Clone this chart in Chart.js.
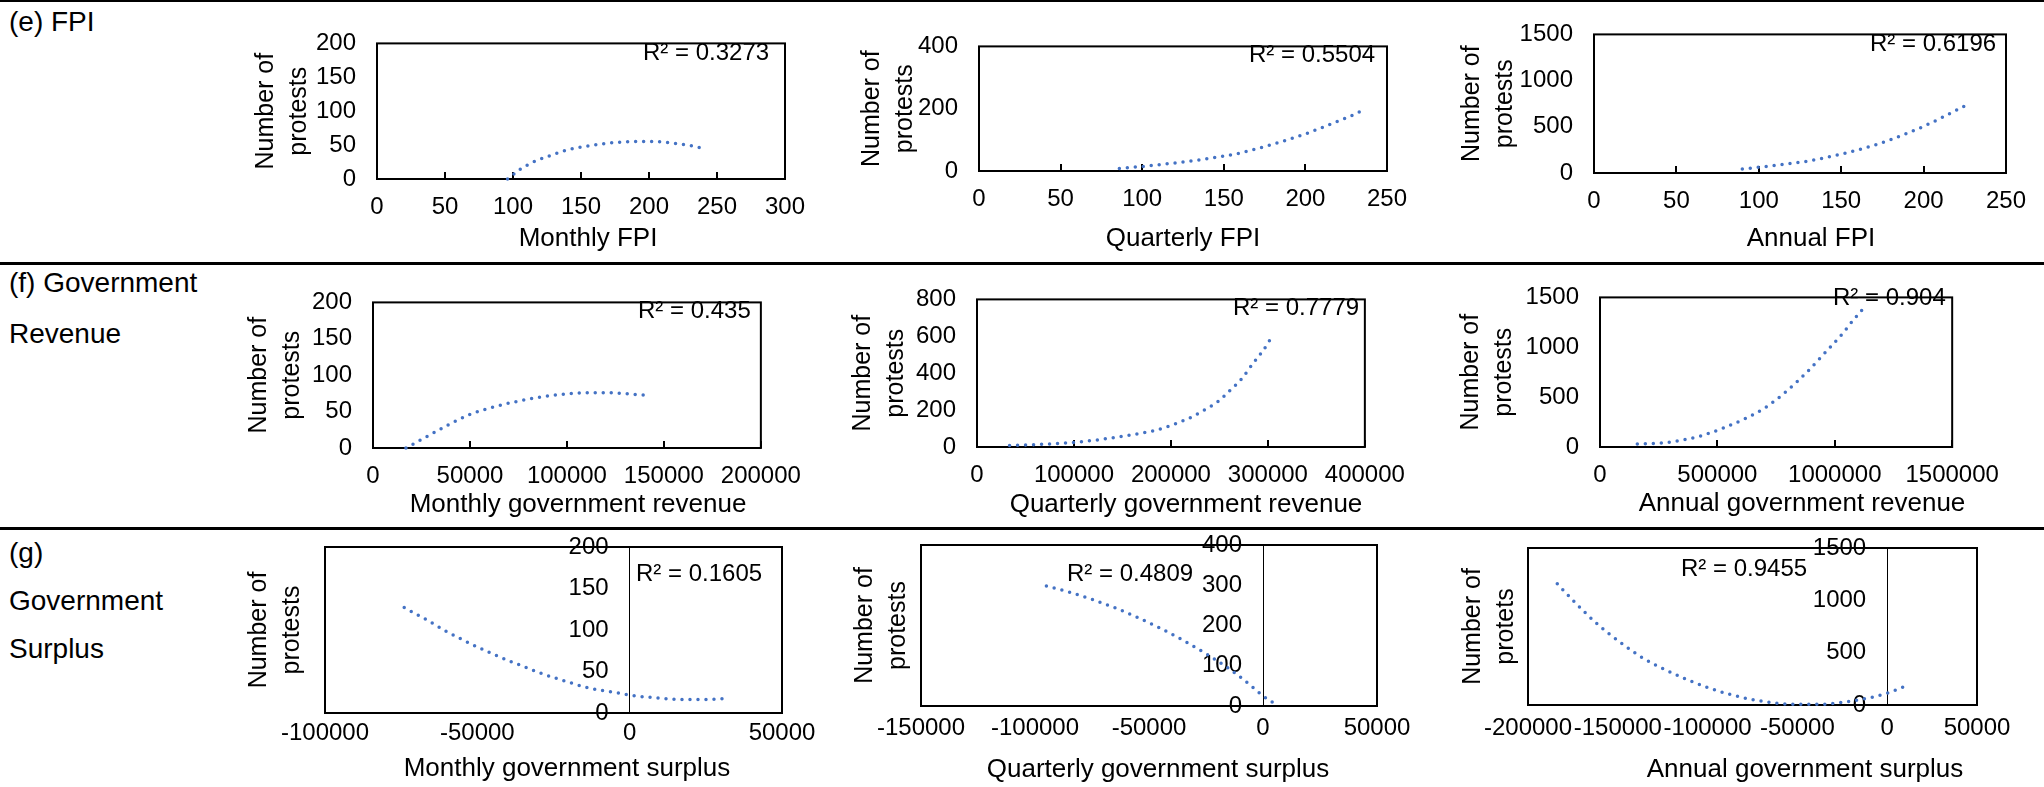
<!DOCTYPE html>
<html><head><meta charset="utf-8">
<script src="https://cdn.jsdelivr.net/npm/chart.js@4.4.1/dist/chart.umd.min.js"></script>
<style>
html,body{margin:0;padding:0;background:#fff;}
body{position:relative;width:2044px;height:787px;overflow:hidden;font-family:"Liberation Sans",Arial,sans-serif;color:#000;}
.hr{position:absolute;left:0;width:2044px;background:#000;}
.lbl{position:absolute;white-space:nowrap;font-size:28px;line-height:28px;}
.r2{position:absolute;white-space:nowrap;font-size:24px;line-height:24px;z-index:2;}
.xt{position:absolute;white-space:nowrap;font-size:26px;line-height:26px;width:600px;text-align:center;}
canvas{position:absolute;}
</style></head><body>
<div class="hr" style="top:0;height:2px"></div>
<div class="hr" style="top:262px;height:3px"></div>
<div class="hr" style="top:527px;height:3px"></div>
<script>
const fpiMonthlyX = [96, 105, 117, 128, 140, 153, 166, 180, 193, 206, 219, 231, 242];
const fpiMonthlyY = [0, 14, 27, 35, 43, 48, 52, 54.5, 55.5, 55, 52.5, 49, 44];
const fpiQuarterlyX = [86, 101, 117, 134, 150, 161, 180, 190, 199, 208, 217, 227, 236];
const fpiQuarterlyY = [8, 15, 24, 35, 48, 59, 86, 102, 117, 135, 154, 175, 197];
const fpiAnnualX = [90, 100, 110, 120, 130, 140, 150, 160, 170, 180, 190, 200, 210, 220, 227];
const fpiAnnualY = [42, 62, 82, 105, 130, 165, 205, 250, 300, 360, 430, 505, 590, 680, 745];
const revMonthlyX = [17000, 28000, 39000, 50000, 61500, 72500, 84000, 95000, 106000, 117500, 128500, 140000];
const revMonthlyY = [0, 16, 32, 46, 56, 63, 69, 73, 75.5, 76, 75, 72.5];
const revQuarterlyX = [33600, 60000, 100000, 132000, 159000, 181000, 199000, 222000, 235000, 248500, 262000, 273000, 284500, 295500, 304500];
const revQuarterlyY = [8, 13, 25, 44, 66, 87, 115, 164, 202, 246, 312, 370, 452, 526, 600];
const revAnnualX = [159000, 265000, 353000, 442000, 530000, 618000, 707000, 795000, 883000, 972000, 1034000, 1078000, 1119000];
const revAnnualY = [30, 40, 70, 120, 195, 285, 400, 560, 755, 980, 1140, 1270, 1382];
const surMonthlyX = [-74000, -67000, -60000, -52500, -45500, -39000, -34750, -29840, -24920, -19670, -14520, -9050, -3600, 1300, 6790, 12260, 17700, 23170, 28600, 31400];
const surMonthlyY = [127, 113, 98, 84, 72, 62, 56, 48.8, 42.7, 36.7, 31.2, 27.1, 24, 20.8, 18.8, 17.2, 16.3, 16.3, 16.8, 17.2];
const surQuarterlyX = [-95000, -85000, -75000, -65000, -55000, -45000, -35000, -25000, -15000, -10000, -5000, 0, 7000];
const surQuarterlyY = [298, 283, 265, 244, 220, 193, 163, 130, 93, 72, 49, 25, 0];
const surAnnualX = [-183700, -172700, -160500, -148300, -136100, -123900, -111700, -99500, -87300, -75100, -62900, -50700, -38500, -26300, -14100, 0, 11500];
const surAnnualY = [1158, 960, 760, 595, 450, 340, 245, 165, 100, 52, 20, 6, 6, 22, 55, 112, 190];

const r2Values = ['0.3273', '0.5504', '0.6196', '0.435', '0.7779', '0.904', '0.1605', '0.4809', '0.9455'];
const xTitles = ['Monthly FPI', 'Quarterly FPI', 'Annual FPI',
  'Monthly government revenue', 'Quarterly government revenue', 'Annual government revenue',
  'Monthly government surplus', 'Quarterly government surplus', 'Annual government surplus'];
const yTitles = [['Number of', 'protests'], ['Number of', 'protests'], ['Number of', 'protests'],
  ['Number of', 'protests'], ['Number of', 'protests'], ['Number of', 'protests'],
  ['Number of', 'protests'], ['Number of', 'protests'], ['Number of', 'protets']];
const xRanges = [[0, 300, 50], [0, 250, 50], [0, 250, 50],
  [0, 200000, 50000], [0, 400000, 100000], [0, 1500000, 500000],
  [-100000, 50000, 50000], [-150000, 50000, 50000], [-200000, 50000, 50000]];
const yRanges = [[200, 50], [400, 100], [1500, 500], [200, 50], [800, 200], [1500, 500], [200, 50], [400, 100], [1500, 500]];
const rowLabels = [['(e) FPI', 22], ['(f) Government', 283], ['Revenue', 334], ['(g)', 553], ['Government', 601], ['Surplus', 649]];

const seriesX = [fpiMonthlyX, fpiQuarterlyX, fpiAnnualX, revMonthlyX, revQuarterlyX, revAnnualX, surMonthlyX, surQuarterlyX, surAnnualX];
const seriesY = [fpiMonthlyY, fpiQuarterlyY, fpiAnnualY, revMonthlyY, revQuarterlyY, revAnnualY, surMonthlyY, surQuarterlyY, surAnnualY];

// ---- layout (plot boxes and label anchors in page pixels) ----
const layout = [
  {box: [377, 28, 785, 179], dy: -111, tickY: 207.5, title: [588, 237], r2: [643, 52], inner: true},
  {box: [979, 31, 1387, 171], dy: -107, tickY: 199.5, title: [1183, 237], r2: [1249, 54], inner: true},
  {box: [1594, 19, 2006, 173], dy: -122, tickY: 201.5, title: [1811, 237], r2: [1870, 43], inner: true},
  {box: [373, 287, 772, 448], dy: -114, tickY: 476.5, title: [578, 503], r2: [638, 310], inner: true},
  {box: [977, 284, 1376, 447], dy: -114, tickY: 475.5, title: [1186, 503], r2: [1233, 307], inner: true},
  {box: [1600, 282, 1970, 447], dy: -129, tickY: 475.5, title: [1802, 502], r2: [1833, 297], inner: true},
  {box: [325, 547, 782, 713], dy: -66, tickY: 733, title: [567, 767], r2: [636, 573], inner: false},
  {box: [921, 545, 1377, 706], dy: -56, tickY: 728.5, title: [1158, 768], r2: [1067, 573], inner: false},
  {box: [1528, 548, 1977, 705], dy: -55, tickY: 728.5, title: [1805, 768], r2: [1681, 568], inner: false}
];

Chart.defaults.font.family = '"Liberation Sans", Arial, sans-serif';
Chart.defaults.color = '#000';

const boxPlugin = {
  id: 'plotBox',
  beforeDatasetsDraw(chart) {
    const a = chart.chartArea, ctx = chart.ctx;
    ctx.save();
    ctx.strokeStyle = '#000';
    ctx.lineWidth = 2;
    ctx.strokeRect(a.left, a.top, a.right - a.left, a.bottom - a.top);
    ctx.restore();
  }
};

const fmt = v => String(v);

function addDiv(cls, txt, left, top) {
  const d = document.createElement('div');
  d.className = cls;
  d.textContent = txt;
  d.style.left = left + 'px';
  d.style.top = top + 'px';
  document.body.appendChild(d);
  return d;
}

rowLabels.forEach(([txt, cy]) => addDiv('lbl', txt, 9, cy - 14));

layout.forEach((p, i) => {
  const [l, t, r, b] = p.box;
  const LHy = 25 * 1.3;
  const Wy = Math.round(-p.dy + LHy / 2);
  const padTop = 20, padRight = 50;
  const Hx = Math.round(p.tickY - b + 20);
  const cw = Wy + (r - l) + padRight, ch = padTop + (b - t) + Hx;
  const cv = document.createElement('canvas');
  cv.width = cw; cv.height = ch;
  cv.style.left = (l - Wy) + 'px';
  cv.style.top = (t - padTop) + 'px';
  cv.style.width = cw + 'px'; cv.style.height = ch + 'px';
  document.body.appendChild(cv);

  const [xMin, xMax, xStep] = xRanges[i];
  const [yMax, yStep] = yRanges[i];
  const tl = p.inner ? -7 : 0;
  const xPad = (p.tickY - b) - 14.4 - tl;
  const yTitle = {display: true, text: yTitles[i], font: {size: 25, lineHeight: 1.3}, padding: 0, color: '#000'};

  const scales = {
    x: {
      type: 'linear', position: 'bottom', min: xMin, max: xMax,
      ticks: {stepSize: xStep, autoSkip: false, maxRotation: 0, minRotation: 0, padding: xPad, font: {size: 24}, color: '#000', callback: fmt},
      grid: p.inner ? {display: true, drawOnChartArea: false, drawTicks: true, tickLength: -7, color: '#000', lineWidth: 2}
                    : {display: false, drawTicks: false},
      border: {display: false},
      afterFit: s => { s.height = Hx; }
    }
  };
  if (p.inner) {
    scales.y = {
      axis: 'y', type: 'linear', position: 'left', min: 0, max: yMax,
      ticks: {stepSize: yStep, padding: 21, font: {size: 24}, color: '#000', callback: fmt},
      grid: {display: false, drawTicks: false},
      border: {display: false},
      title: yTitle,
      afterFit: s => { s.width = Wy; }
    };
  } else {
    const ppu = (r - l) / (xMax - xMin);
    scales.yt = {
      axis: 'y', type: 'linear', position: 'left', min: 0, max: 1,
      ticks: {display: false}, grid: {display: false, drawTicks: false}, border: {display: false},
      title: yTitle,
      afterFit: s => { s.width = Wy; }
    };
    scales.y = {
      axis: 'y', type: 'linear', position: {x: -21 / ppu}, min: 0, max: yMax,
      ticks: {stepSize: yStep, padding: 0, font: {size: 24}, color: '#000', callback: fmt},
      grid: {display: false, drawTicks: false},
      border: {display: false}
    };
    scales.y0 = {
      axis: 'y', type: 'linear', position: {x: 0}, min: 0, max: 1,
      ticks: {display: false}, grid: {display: false, drawTicks: false},
      border: {display: true, color: '#000', width: 1}
    };
  }

  const chart = new Chart(cv, {
    type: 'scatter',
    data: {
      datasets: [{
        data: seriesX[i].map((x, k) => ({x: x, y: seriesY[i][k]})),
        xAxisID: 'x', yAxisID: 'y',
        showLine: true, pointRadius: 0, pointHoverRadius: 0,
        borderColor: '#4472C4', backgroundColor: '#4472C4',
        borderWidth: 3.5, borderDash: [0, 8], borderCapStyle: 'round',
        cubicInterpolationMode: 'monotone', clip: false
      }]
    },
    options: {
      responsive: false, animation: false, events: [],
      layout: {autoPadding: false, padding: {top: padTop, right: padRight, left: 0, bottom: 0}},
      plugins: {legend: {display: false}, tooltip: {enabled: false}},
      scales: scales
    },
    plugins: [boxPlugin]
  });

  // make the library's plot area land exactly on the reference plot box
  const pad = {top: padTop, right: padRight, left: 0, bottom: 0};
  for (let k = 0; k < 4; k++) {
    const ca = chart.chartArea;
    const eT = ca.top - padTop, eB = ca.bottom - (padTop + (b - t));
    const eL = ca.left - Wy, eR = ca.right - (Wy + (r - l));
    if (Math.abs(eT) + Math.abs(eB) + Math.abs(eL) + Math.abs(eR) < 0.5) break;
    pad.top -= eT; pad.bottom += eB; pad.left -= eL; pad.right += eR;
    chart.options.layout.padding = Object.assign({}, pad);
    chart.update('none');
  }

  addDiv('xt', xTitles[i], p.title[0] - 300, p.title[1] - 13);
  addDiv('r2', 'R\u00B2 = ' + r2Values[i], p.r2[0], p.r2[1] - 12);
});
</script>
</body></html>
